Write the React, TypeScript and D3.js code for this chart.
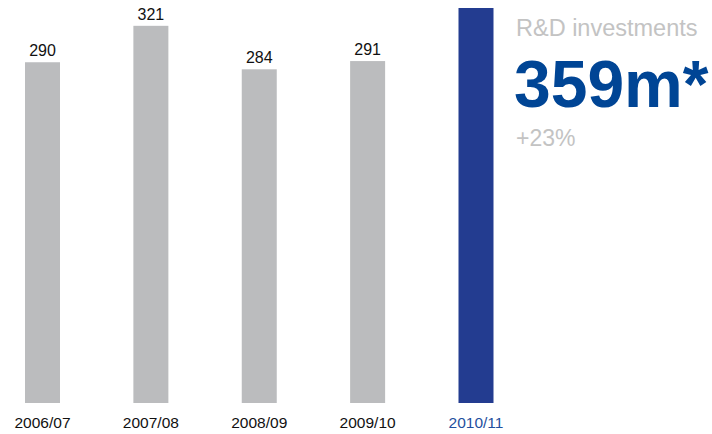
import React from "react";
import * as d3 from "d3";

const categories = ["2006/07", "2007/08", "2008/09", "2009/10", "2010/11"];
const values = [290, 321, 284, 291, 359];
const highlightIndex = 4;
const titleText = "R&D investments";
const bigValue = "359m*";
const changeText = "+23%";

const W = 712;
const H = 434;
const baseline = 403;
const topY = 8;
const font = "'Liberation Sans', Arial, Helvetica, sans-serif";

export default function App() {
  const x = d3.scalePoint<string>().domain(categories).range([42.5, 476]);
  const y = d3
    .scaleLinear()
    .domain([0, 100])
    .range([baseline, baseline - 117.5]);
  const yc = (v: number) => Math.max(topY, y(v));
  const bw = 35;

  return (
    <svg
      width={W}
      height={H}
      style={{ position: "absolute", left: 0, top: 0, background: "#fff" }}
      fontFamily={font}
    >
      {categories.map((c, i) => {
        const cx = x(c) as number;
        const hi = i === highlightIndex;
        const top = yc(values[i]);
        return (
          <g key={c}>
            <rect
              x={cx - bw / 2}
              y={top}
              width={bw}
              height={baseline - top}
              fill={hi ? "#233c90" : "#bbbcbe"}
            />
            {!hi && (
              <text
                x={cx}
                y={top - 6}
                textAnchor="middle"
                fontSize={16}
                fill="#111"
              >
                {values[i]}
              </text>
            )}
            <text
              x={cx}
              y={428}
              textAnchor="middle"
              fontSize={15.5}
              fill={hi ? "#1f4f9e" : "#111"}
            >
              {c}
            </text>
          </g>
        );
      })}
      <text x={516} y={36} fontSize={23.5} fill="#c3c3c3">
        {titleText}
      </text>
      <text x={514} y={107} fontSize={66} fontWeight="bold" fill="#004595">
        {bigValue}
      </text>
      <text x={516} y={146} fontSize={23} fill="#c3c3c3">
        {changeText}
      </text>
    </svg>
  );
}
